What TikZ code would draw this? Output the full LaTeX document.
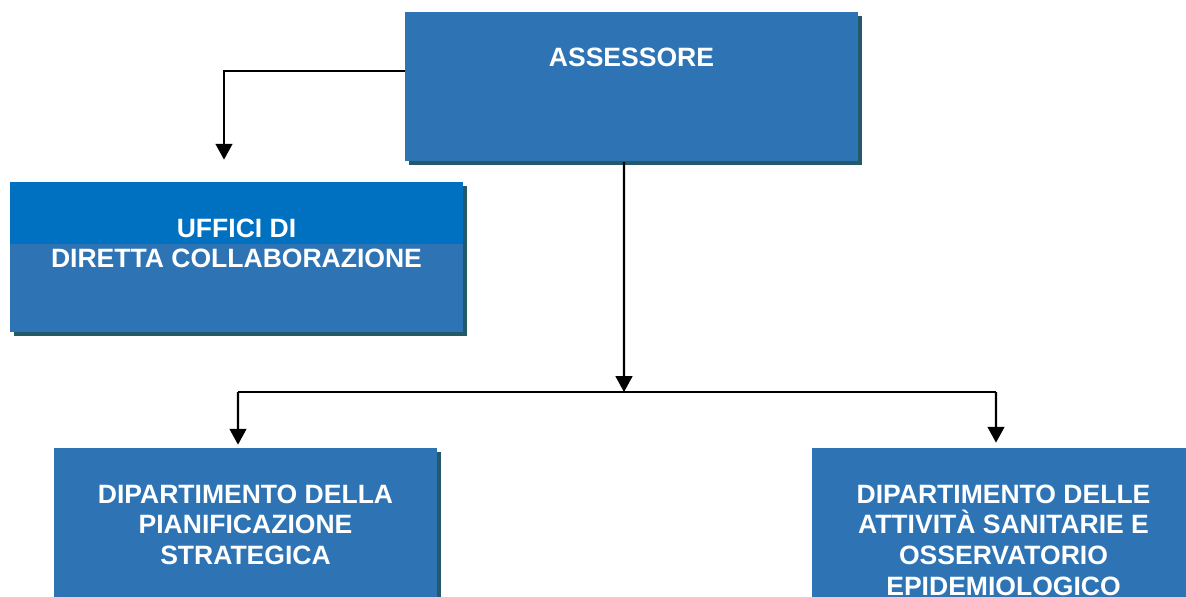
\documentclass[tikz,border=0pt]{standalone}
\usepackage{fontspec}
\setmainfont{Liberation Sans}
\usepackage{xcolor}
\usetikzlibrary{arrows.meta,shadows}
\definecolor{boxblue}{HTML}{2E74B5}
\definecolor{bandblue}{HTML}{0070C0}
\definecolor{shade}{HTML}{235A6A}

\begin{document}
\begin{tikzpicture}[x=0.02cm,y=-0.02cm,
  box/.style={fill=boxblue,draw=none,minimum width=9.06cm,minimum height=3cm,
              inner sep=0pt,
              drop shadow={shadow xshift=0.08cm,shadow yshift=-0.08cm,fill=shade,opacity=1}},
  dept/.style={box,minimum width=7.66cm,minimum height=3.44cm},
  txt/.style={text=white,font=\bfseries\fontsize{15.1}{17.6}\selectfont,
              align=center,inner sep=0pt,anchor=north,yshift=-0.73cm},
  line/.style={draw=black,line width=1.25pt},
  arr/.style={line,-{Triangle[length=9pt,width=9.5pt]}}
]
\useasboundingbox (0,0) rectangle (1186,596);
\clip (0,0) rectangle (1186,596);
\node[box,label={[txt]north:ASSESSORE}] (ass) at (631.5,86.5) {};
\node[box,label={[txt]north:{UFFICI DI\\DIRETTA COLLABORAZIONE}},
      path picture={\fill[bandblue] (path picture bounding box.north west)
        rectangle ([yshift=-1.23cm]path picture bounding box.north east);}]
      (uff) at (236.5,257) {};
\node[dept,label={[txt]north:{DIPARTIMENTO DELLA\\PIANIFICAZIONE\\STRATEGICA}}]
      (pia) at (245.5,534) {};
\node[dept,label={[txt]north:{DIPARTIMENTO DELLE\\ATTIVITÀ SANITARIE E\\OSSERVATORIO\\EPIDEMIOLOGICO}}]
      (att) at (1003.5,534) {};
\coordinate (hub) at (624,392);
\coordinate (lft) at (238,392);
\coordinate (rgt) at (996,392);
\draw[arr] ([yshift=0.31cm]ass.west) -| ([xshift=-0.25cm,yshift=0.44cm]uff.north);
\draw[arr] ([xshift=-0.15cm]ass.south) -- (hub);
\draw[line] (lft) -- (rgt);
\draw[arr] (lft) -- ([xshift=-0.15cm,yshift=0.06cm]pia.north);
\draw[arr] (rgt) -- ([xshift=-0.15cm,yshift=0.1cm]att.north);
\end{tikzpicture}
\end{document}
